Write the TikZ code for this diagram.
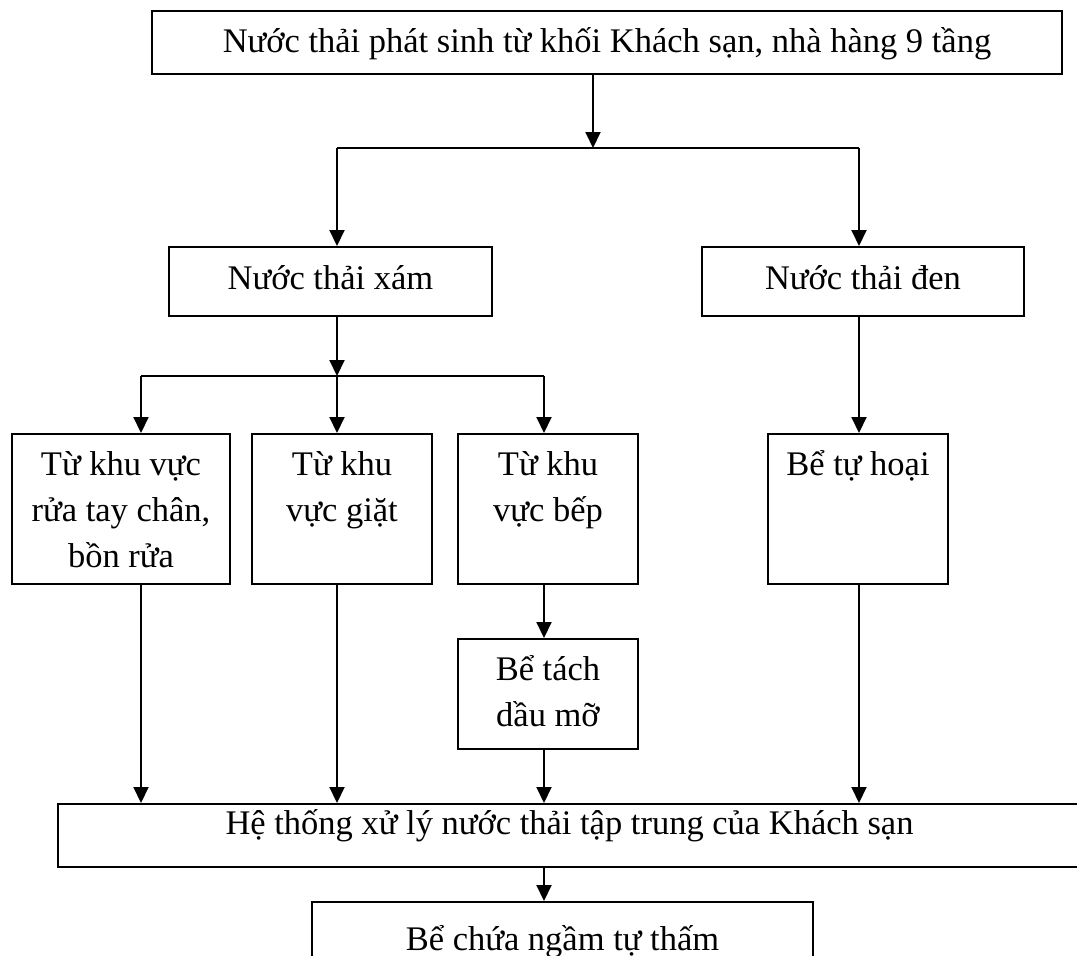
\documentclass[tikz,border=0pt]{standalone}
\usepackage{fontspec}
\setmainfont{Liberation Serif}
\usetikzlibrary{arrows.meta}
\newcommand\bxt[4]{\parbox[t][#2pt][t]{#1pt}{\centering\rule{0pt}{#3pt}#4}}
\begin{document}
\begin{tikzpicture}[x=1pt,y=-1pt,
  box/.style={draw, line width=2pt, rectangle, inner sep=0pt, anchor=north west,
    font=\fontsize{34.5}{46}\selectfont},
  arr/.style={line width=2pt, -{Triangle[length=16pt,width=15pt]}},
  ln/.style={line width=2pt}]
\useasboundingbox (0,0) rectangle (1077,956);
\node[box] (top) at (151,10) {\bxt{910}{63}{41}{Nước thải phát sinh từ khối Khách sạn, nhà hàng 9 tầng}};
\node[box] (xam) at (168,246) {\bxt{323}{69}{42}{Nước thải xám}};
\node[box] (den) at (701,246) {\bxt{322}{69}{42}{Nước thải đen}};
\node[box] (rua) at (11,433) {\bxt{218}{150}{41}{Từ khu vực\\rửa tay chân,\\bồn rửa}};
\node[box] (giat) at (251,433) {\bxt{180}{150}{41}{Từ khu\\vực giặt}};
\node[box] (bep) at (457,433) {\bxt{180}{150}{41}{Từ khu\\vực bếp}};
\node[box] (hoai) at (767,433) {\bxt{180}{150}{41}{Bể tự hoại}};
\node[box] (tach) at (457,638) {\bxt{180}{110}{41}{Bể tách\\dầu mỡ}};
\node[box] (big) at (57,803) {\bxt{1023}{63}{30}{Hệ thống xử lý nước thải tập trung của Khách sạn}};
\node[box] (bot) at (311,901) {\bxt{501}{80}{48}{Bể chứa ngầm tự thấm}};
% junctions
\coordinate (j0) at (593,148);
\coordinate (jl) at (337,148);
\coordinate (jr) at (859,148);
\coordinate (k0) at (337,376);
\coordinate (k1) at (141,376);
\coordinate (k3) at (544,376);
\draw[arr] (top.south -| j0) -- (j0);
\draw[ln] (jl) -- (jr);
\draw[arr] (jl) -- (jl |- xam.north);
\draw[arr] (jr) -- (jr |- den.north);
\draw[arr] (xam.south -| k0) -- (k0);
\draw[ln] (k1) -- (k3);
\draw[arr] (k1) -- (k1 |- rua.north);
\draw[arr] (k0) -- (k0 |- giat.north);
\draw[arr] (k3) -- (k3 |- bep.north);
\draw[arr] (jr |- den.south) -- (jr |- hoai.north);
\draw[arr] (k1 |- rua.south) -- (k1 |- big.north);
\draw[arr] (k0 |- giat.south) -- (k0 |- big.north);
\draw[arr] (k3 |- bep.south) -- (k3 |- tach.north);
\draw[arr] (k3 |- tach.south) -- (k3 |- big.north);
\draw[arr] (jr |- hoai.south) -- (jr |- big.north);
\draw[arr] (k3 |- big.south) -- (k3 |- bot.north);
\end{tikzpicture}
\end{document}
